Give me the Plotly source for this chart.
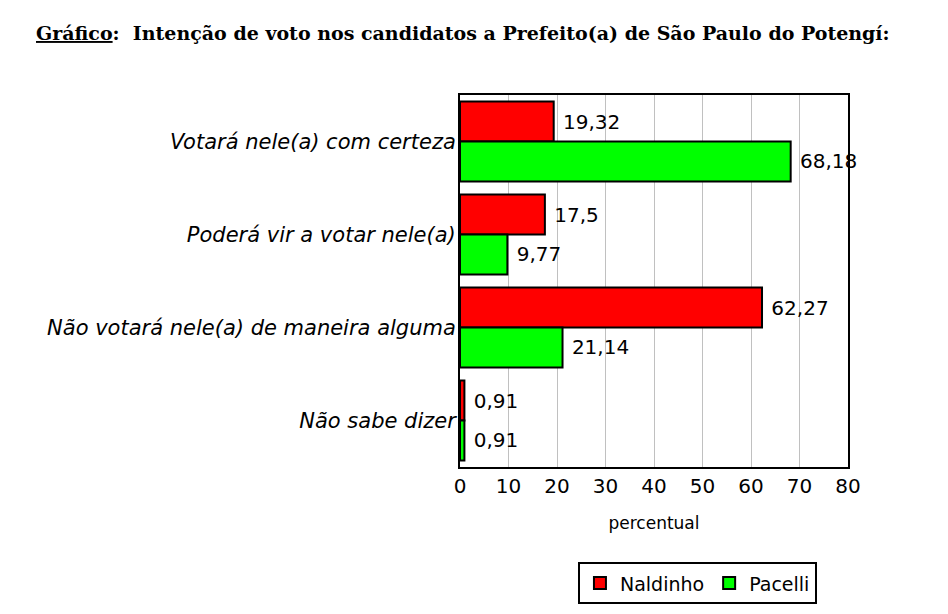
import plotly.graph_objects as go

categorias = ["Votará nele(a) com certeza", "Poderá vir a votar nele(a)",
              "Não votará nele(a) de maneira alguma", "Não sabe dizer"]
naldinho = [19.32, 17.5, 62.27, 0.91]
pacelli = [68.18, 9.77, 21.14, 0.91]
rotulos_naldinho = ["19,32", "17,5", "62,27", "0,91"]
rotulos_pacelli = ["68,18", "9,77", "21,14", "0,91"]
ticks_x = [0, 10, 20, 30, 40, 50, 60, 70, 80]

# the page puts the figure about 8px right/down, margins take that into account
fonte = dict(family="DejaVu Sans, Arial", size=20, color="black")

fig = go.Figure()
for nome, valores, rotulos, cor in [("Naldinho", naldinho, rotulos_naldinho, "#ff0000"),
                                    ("Pacelli", pacelli, rotulos_pacelli, "#00ff00")]:
    fig.add_trace(go.Bar(
        y=categorias, x=valores, name=nome, orientation="h",
        marker=dict(color=cor, line=dict(color="black", width=2)),
        text=[" " + r for r in rotulos], textposition="outside", textfont=fonte,
        cliponaxis=False,
    ))

fig.update_layout(
    width=948, height=614,
    margin=dict(l=452, r=108, t=87, b=155),
    paper_bgcolor="white", plot_bgcolor="white",
    barmode="group", bargap=0.14, bargroupgap=0.0,
    font=fonte,
    showlegend=True,
    legend=dict(orientation="h", x=0.304, y=-0.256, xanchor="left", yanchor="top",
                bordercolor="black", borderwidth=2, font=dict(size=19),
                itemwidth=30, tracegroupgap=0),
    annotations=[dict(
        text="<b><u>Gráfico</u>:  Intenção de voto nos candidatos a Prefeito(a) de São Paulo do Potengí:</b>",
        xref="paper", yref="paper", x=-1.098, y=1.167, xanchor="left", yanchor="middle",
        showarrow=False, font=dict(family="DejaVu Serif, serif", size=19, color="black"),
    )],
)
fig.update_xaxes(
    range=[0, 80], tickvals=ticks_x, showgrid=True, gridcolor="#c0c0c0", gridwidth=1,
    showline=True, linecolor="black", linewidth=2, mirror=True,
    ticks="", tickfont=dict(size=20), zeroline=False,
    title=dict(text="percentual", font=dict(size=17), standoff=20),
)
fig.update_yaxes(
    autorange="reversed", showline=True, linecolor="black", linewidth=2, mirror=True,
    ticks="", tickfont=dict(size=21), ticklabelstandoff=-2,
    tickvals=categorias, ticktext=[f"<i>{c}</i>" for c in categorias],
)

fig.write_html("out.html")
